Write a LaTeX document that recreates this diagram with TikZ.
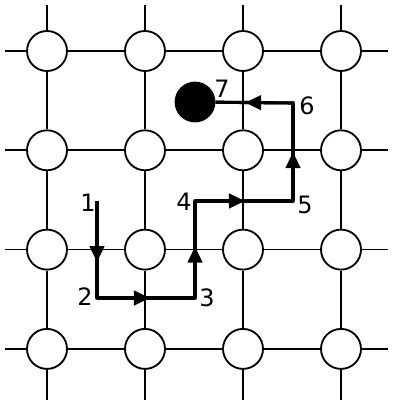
\documentclass[tikz,border=0pt]{standalone}
\usepackage{fontspec}
\setsansfont{DejaVu Sans}
\usetikzlibrary{arrows.meta, decorations.markings}
\tikzset{
  site/.style={circle, draw=black, fill=white, line width=1.3pt,
    minimum size=1.0cm, inner sep=0pt},
  atom/.style={circle, fill=black, minimum size=1.02cm, inner sep=0pt},
  bond/.style={line width=1.2pt},
  hop/.style={line width=2.2pt, line join=miter},
  tip at/.style={postaction={decorate, decoration={markings,
    mark=at position #1 with {\arrow{Triangle[length=4mm, width=3.6mm]}}}}},
  num/.style={font=\sffamily\fontsize{17}{20}\selectfont, inner sep=0pt}
}
\begin{document}
\begin{tikzpicture}[x=0.025cm, y=-0.025cm]
  \useasboundingbox (0,0) rectangle (403,407);
  % lattice sites
  \foreach \i in {1,...,4}
    \foreach \j in {1,...,4}
      \node[site] (c\i\j) at ({47+98*(\i-1)}, {51+99.3*(\j-1)}) {};
  % bonds, rows and columns
  \foreach \j in {1,...,4} {
    \coordinate (w\j) at (5, {51+99.3*(\j-1)});
    \coordinate (e\j) at (388, {51+99.3*(\j-1)});
    \draw[bond] (w\j) -- (c1\j) -- (c2\j) -- (c3\j) -- (c4\j) -- (e\j);
  }
  \foreach \i in {1,...,4} {
    \coordinate (n\i) at ({47+98*(\i-1)}, 5);
    \coordinate (s\i) at ({47+98*(\i-1)}, 400);
    \draw[bond] (n\i) -- (c\i1) -- (c\i2) -- (c\i3) -- (c\i4) -- (s\i);
  }
  % jump path
  \node[atom] (p7) at (195,102) {};
  \coordinate (p1) at (97,201);
  \coordinate (p2) at (97,298);
  \coordinate (p3) at (195,298);
  \coordinate (p4) at (195,201);
  \coordinate (p5) at (293,201);
  \coordinate (p6) at (293,103);
  \draw[hop] (p1) -- (p2) -- (p3) -- (p4) -- (p5) -- (p6) -- (p7);
  \draw[hop, tip at=0.63] (p1) -- (p2);
  \draw[hop, tip at=0.54] (p2) -- (p3);
  \draw[hop, tip at=0.53] (p3) -- (p4);
  \draw[hop, tip at=0.51] (p4) -- (p5);
  \draw[hop, tip at=0.50] (p5) -- (p6);
  \draw[hop, tip at=0.62] (p6) -- (p7);
  % step numbers
  \node[num] (l1) at (88,203) {1};
  \node[num] (l2) at (85,297) {2};
  \node[num] (l3) at (207,298) {3};
  \node[num] (l4) at (184,202) {4};
  \node[num] (l5) at (305,205) {5};
  \node[num] (l6) at (307,106) {6};
  \node[num] (l7) at (222,89) {7};
\end{tikzpicture}
\end{document}
